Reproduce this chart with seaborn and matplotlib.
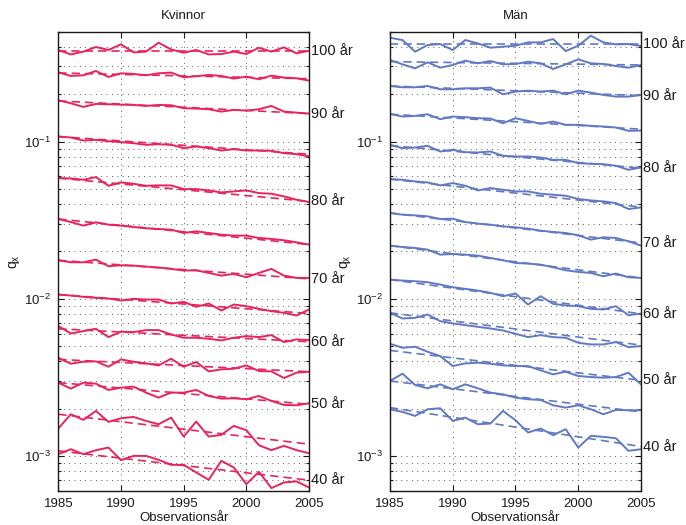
import matplotlib
matplotlib.use("Agg")
import matplotlib.pyplot as plt
import matplotlib.ticker as mticker
import seaborn as sns

years = list(range(1985, 2006))
fit_years = [1985, 2005]
ages = [100, 95, 90, 85, 80, 75, 70, 65, 60, 55, 50, 45, 40]
labelled_ages = [100, 90, 80, 70, 60, 50, 40]

# ---- Kvinnor (observed q_x) ----
k100 = [0.382,0.358,0.373,0.399,0.382,0.415,0.369,0.373,0.425,0.385,0.367,0.382,0.358,0.360,0.373,0.360,0.395,0.373,0.397,0.364,0.378]
k95 = [0.2756,0.2612,0.2638,0.2810,0.2574,0.2716,0.2690,0.2638,0.2716,0.2742,0.2562,0.2600,0.2651,0.2612,0.2513,0.2587,0.2488,0.2625,0.2550,0.2525,0.2440]
k90 = [0.1830,0.1751,0.1660,0.1734,0.1726,0.1717,0.1709,0.1684,0.1709,0.1701,0.1628,0.1620,0.1604,0.1550,0.1589,0.1573,0.1604,0.1684,0.1550,0.1527,0.1505]
k85 = [0.1076,0.1061,0.1015,0.1025,0.1005,0.0991,0.0976,0.0953,0.0962,0.0953,0.0908,0.0930,0.0908,0.0877,0.0894,0.0877,0.0877,0.0873,0.0844,0.0831,0.0804]
k80 = [0.05855,0.05826,0.05714,0.05942,0.05234,0.05495,0.05389,0.05234,0.05260,0.05260,0.04985,0.04985,0.04889,0.04748,0.04818,0.04889,0.04702,0.04657,0.04479,0.04266,0.04123]
k75 = [0.03217,0.03079,0.02919,0.03064,0.02961,0.02919,0.02862,0.02807,0.02780,0.02753,0.02622,0.02687,0.02622,0.02559,0.02522,0.02522,0.02437,0.02403,0.02356,0.02287,0.02212]
k70 = [0.01758,0.01707,0.01707,0.01775,0.01611,0.01634,0.01626,0.01603,0.01580,0.01549,0.01512,0.01519,0.01461,0.01405,0.01440,0.01371,0.01461,0.01549,0.01405,0.01358,0.01358]
k65 = [0.010647,0.010493,0.010291,0.010141,0.010044,0.009754,0.009995,0.009897,0.009897,0.009336,0.009566,0.008892,0.009336,0.008428,0.009200,0.008979,0.008636,0.008347,0.008145,0.007832,0.008553]
k60 = [0.006705,0.006023,0.006232,0.006448,0.005709,0.006172,0.006142,0.006324,0.006324,0.005936,0.005653,0.005653,0.005572,0.005437,0.005653,0.005793,0.005709,0.005878,0.005307,0.005518,0.005464]
k55 = [0.004221,0.003867,0.003981,0.004000,0.003701,0.004119,0.003981,0.003885,0.003774,0.004160,0.003701,0.003962,0.003457,0.003560,0.003594,0.003774,0.003474,0.003457,0.003136,0.003391,0.003440]
k50 = [0.002931,0.002684,0.002931,0.002888,0.002633,0.002724,0.002764,0.002532,0.002354,0.002532,0.002532,0.002633,0.002412,0.002320,0.002331,0.002297,0.002412,0.002242,0.002115,0.002104,0.002167]
k45 = [0.001497,0.001845,0.001699,0.001937,0.001650,0.001740,0.001774,0.001674,0.001594,0.001758,0.001331,0.001658,0.001331,0.001364,0.001556,0.001461,0.001173,0.001091,0.001162,0.001091,0.001043]
k40 = [0.001028,0.001106,0.001028,0.001090,0.001133,0.000942,0.001003,0.001003,0.000947,0.000880,0.000880,0.000787,0.000707,0.000933,0.000846,0.000663,0.000794,0.000626,0.000680,0.000690,0.000632]

# ---- Kvinnor (fitted trend, 1985 and 2005) ----
k100_fit = [0.378, 0.378]
k95_fit = [0.2729, 0.2506]
k90_fit = [0.1812, 0.1505]
k85_fit = [0.1076, 0.0831]
k80_fit = [0.05855, 0.04163]
k75_fit = [0.03217, 0.02212]
k70_fit = [0.01758, 0.01339]
k65_fit = [0.010647, 0.008067]
k60_fit = [0.006448, 0.005333]
k55_fit = [0.004119, 0.003440]
k50_fit = [0.002931, 0.002135]
k45_fit = [0.001845, 0.001191]
k40_fit = [0.001080, 0.000703]

# ---- Män (observed q_x) ----
m100 = [0.4571,0.4418,0.3726,0.4107,0.4167,0.3818,0.4418,0.4208,0.3950,0.4008,0.4067,0.4270,0.4270,0.4483,0.3762,0.4067,0.4707,0.4270,0.4147,0.4167,0.4047]
m95 = [0.3299,0.3096,0.2921,0.3188,0.2949,0.3066,0.3267,0.3142,0.3251,0.3096,0.3111,0.3220,0.3142,0.2892,0.3096,0.3331,0.3142,0.3111,0.3022,0.2949,0.3066]
m90 = [0.2256,0.2213,0.2213,0.2256,0.2149,0.2149,0.2181,0.2181,0.2202,0.1997,0.2077,0.2107,0.2077,0.2107,0.1997,0.2107,0.2047,0.1978,0.1931,0.1931,0.1978]
m85 = [0.1499,0.1442,0.1456,0.1492,0.1387,0.1442,0.1428,0.1407,0.1400,0.1308,0.1407,0.1353,0.1295,0.1340,0.1277,0.1277,0.1258,0.1246,0.1228,0.1169,0.1175]
m80 = [0.09529,0.09075,0.09164,0.09390,0.08643,0.08856,0.08560,0.08519,0.08643,0.08114,0.08035,0.08035,0.07918,0.07653,0.07653,0.07290,0.07219,0.07183,0.07012,0.06613,0.06842]
m75 = [0.05769,0.05714,0.05576,0.05495,0.05260,0.05442,0.05234,0.04889,0.05059,0.04937,0.04818,0.04818,0.04657,0.04589,0.04523,0.04309,0.04225,0.04163,0.04063,0.03723,0.03813]
m70 = [0.03512,0.03428,0.03394,0.03345,0.03217,0.03232,0.03079,0.03005,0.02961,0.02890,0.02849,0.02793,0.02713,0.02661,0.02622,0.02534,0.02379,0.02461,0.02437,0.02322,0.02179]
m65 = [0.02178,0.02136,0.02105,0.02054,0.01909,0.01928,0.01909,0.01882,0.01819,0.01758,0.01691,0.01674,0.01650,0.01587,0.01519,0.01482,0.01461,0.01391,0.01447,0.01371,0.01358]
m60 = [0.01325,0.01306,0.01294,0.01275,0.01232,0.01185,0.01157,0.01129,0.01091,0.01039,0.01080,0.00920,0.01039,0.00929,0.00907,0.00898,0.00863,0.00855,0.00898,0.00787,0.00806]
m55 = [0.008143,0.007497,0.007571,0.007947,0.007209,0.006969,0.006801,0.006637,0.006478,0.006291,0.005992,0.005708,0.005876,0.005708,0.005651,0.005255,0.005128,0.005128,0.005305,0.004932,0.005005]
m50 = [0.005179,0.004884,0.004957,0.004607,0.004324,0.003737,0.003885,0.003923,0.003866,0.003773,0.003737,0.003737,0.003508,0.003309,0.003440,0.003230,0.003182,0.003151,0.003182,0.003390,0.002859]
m45 = [0.003003,0.003343,0.002832,0.002698,0.002860,0.002658,0.002860,0.002698,0.002532,0.002471,0.002354,0.002297,0.002275,0.002104,0.002034,0.002104,0.001985,0.001845,0.001965,0.001956,0.001956]
m40 = [0.001985,0.001909,0.001801,0.001985,0.002014,0.001674,0.001758,0.001594,0.001610,0.001937,0.001690,0.001412,0.001497,0.001358,0.001482,0.001134,0.001345,0.001325,0.001299,0.001080,0.001106]

# ---- Män (fitted trend, 1985 and 2005) ----
m100_fit = [0.4167, 0.4167]
m95_fit = [0.3220, 0.3066]
m90_fit = [0.2256, 0.1959]
m85_fit = [0.1492, 0.1198]
m80_fit = [0.09434, 0.06776]
m75_fit = [0.05769, 0.03831]
m70_fit = [0.03512, 0.02266]
m65_fit = [0.02178, 0.01358]
m60_fit = [0.01325, 0.00803]
m55_fit = [0.008143, 0.005076]
m50_fit = [0.004698, 0.003032]
m45_fit = [0.003003, 0.001909]
m40_fit = [0.002034, 0.001150]

kvinnor_obs = [k100, k95, k90, k85, k80, k75, k70, k65, k60, k55, k50, k45, k40]
kvinnor_fit = [k100_fit, k95_fit, k90_fit, k85_fit, k80_fit, k75_fit, k70_fit,
               k65_fit, k60_fit, k55_fit, k50_fit, k45_fit, k40_fit]
man_obs = [m100, m95, m90, m85, m80, m75, m70, m65, m60, m55, m50, m45, m40]
man_fit = [m100_fit, m95_fit, m90_fit, m85_fit, m80_fit, m75_fit, m70_fit,
           m65_fit, m60_fit, m55_fit, m50_fit, m45_fit, m40_fit]

titles = ["Kvinnor", "Män"]
colors = ["#E8245E", "#6079C2"]
x_ticks = [1985, 1990, 1995, 2000, 2005]

sns.set_theme(style="ticks")
plt.rcParams["font.family"] = ["Liberation Sans", "DejaVu Sans"]
plt.rcParams["mathtext.fontset"] = "custom"
plt.rcParams["mathtext.rm"] = "Liberation Sans"
plt.rcParams["mathtext.it"] = "Liberation Sans:italic"
plt.rcParams["mathtext.default"] = "regular"

fig = plt.figure(figsize=(6.86, 5.25), dpi=100)
ax1 = fig.add_axes([0.085, 0.0648, 0.3655, 0.875])
ax2 = fig.add_axes([0.5685, 0.0648, 0.3659, 0.875])

grid_style = dict(linestyle=(0, (1, 4.5)), color="0.35", lw=0.7)

panels = [(ax1, kvinnor_obs, kvinnor_fit), (ax2, man_obs, man_fit)]
for i, (ax, obs, fits) in enumerate(panels):
    ax.set_yscale("log")
    c = colors[i]
    for age, vals, fit in zip(ages, obs, fits):
        sns.lineplot(x=years, y=vals, ax=ax, color=c, lw=1.4, estimator=None)
        sns.lineplot(x=fit_years, y=fit, ax=ax, color=c, lw=1.2,
                     linestyle=(0, (5, 3)), estimator=None)
        if age in labelled_ages:
            ax.annotate(f"{age} år", xy=(2005, fit[1]), xytext=(1.5, 0),
                        textcoords="offset points", ha="left", va="center",
                        fontsize=10.5, color="#1a1a1a", annotation_clip=False)
    ax.set_xlim(1985, 2005)
    ax.set_ylim(6e-4, 0.5)
    ax.set_xticks(x_ticks)
    ax.set_xticklabels([str(t) for t in x_ticks])
    ax.yaxis.set_major_locator(mticker.LogLocator(base=10, numticks=10))
    ax.yaxis.set_minor_locator(mticker.LogLocator(base=10, subs=range(2, 10), numticks=100))
    ax.yaxis.set_minor_formatter(mticker.NullFormatter())
    ax.grid(True, which="major", axis="x", **grid_style)
    ax.grid(True, which="both", axis="y", **grid_style)
    ax.tick_params(which="both", direction="in", top=True, right=True,
                   labelsize=9.5, colors="#1a1a1a", width=0.8)
    ax.tick_params(which="major", length=4, pad=5)
    ax.tick_params(which="minor", length=2.2)
    for sp in ax.spines.values():
        sp.set_linewidth(1.0)
        sp.set_color("#1a1a1a")
    ax.set_title(titles[i], fontsize=9.5, pad=9, color="#1a1a1a")
    ax.set_xlabel("Observationsår", fontsize=9.5, labelpad=1.5, color="#1a1a1a")
    ax.set_ylabel("q$_x$", fontsize=10, labelpad=2, color="#1a1a1a")
    ax.set_facecolor("white")

fig.savefig("out.png", dpi=100, facecolor="white")
